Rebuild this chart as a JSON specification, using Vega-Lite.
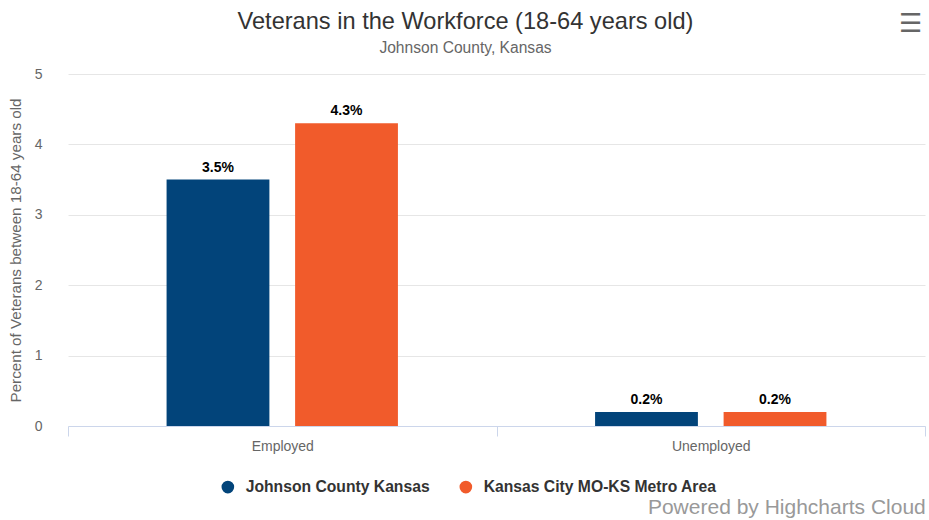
{
  "$schema": "https://vega.github.io/schema/vega-lite/v6.json",
  "width": 857,
  "height": 352,
  "autosize": "none",
  "padding": {"left": 68, "top": 74, "right": 4, "bottom": 94},
  "background": "#ffffff",
  "config": {
    "font": "Liberation Sans",
    "view": {"stroke": null}
  },
  "title": {
    "text": "Veterans in the Workforce (18-64 years old)",
    "subtitle": "Johnson County, Kansas",
    "anchor": "middle",
    "dx": -31,
    "fontSize": 23.6,
    "fontWeight": "normal",
    "color": "#333333",
    "subtitleFontSize": 15.6,
    "subtitleColor": "#666666",
    "subtitlePadding": 8,
    "offset": -46
  },
  "datasets": {
    "bars": [
      {"status": "Employed", "series": "Johnson County Kansas", "value": 3.5, "label": "3.5%"},
      {"status": "Employed", "series": "Kansas City MO-KS Metro Area", "value": 4.3, "label": "4.3%"},
      {"status": "Unemployed", "series": "Johnson County Kansas", "value": 0.2, "label": "0.2%"},
      {"status": "Unemployed", "series": "Kansas City MO-KS Metro Area", "value": 0.2, "label": "0.2%"}
    ]
  },
  "layer": [
    {
      "data": {"name": "bars"},
      "mark": {"type": "bar"},
      "encoding": {
        "x": {
          "field": "status", "type": "nominal", "sort": null,
          "scale": {"paddingInner": 0, "paddingOuter": 0},
          "axis": {
            "title": null, "labelAngle": 0, "tickBand": "extent",
            "domainColor": "#ccd6eb", "tickColor": "#ccd6eb", "tickSize": 10,
            "labelColor": "#666666", "labelFontSize": 14, "labelPadding": 3
          }
        },
        "xOffset": {
          "field": "series", "type": "nominal", "sort": null,
          "scale": {"paddingInner": 0.2, "paddingOuter": 0.767}
        },
        "y": {
          "field": "value", "type": "quantitative",
          "scale": {"domain": [0, 5], "nice": false},
          "axis": {
            "title": "Percent of Veterans between 18-64 years old",
            "values": [0, 1, 2, 3, 4, 5],
            "format": "d",
            "domain": false, "ticks": false,
            "gridColor": "#e6e6e6",
            "labelColor": "#666666", "labelFontSize": 14, "labelPadding": 26,
            "titleColor": "#666666", "titleFontSize": 15.2, "titleFontWeight": "normal",
            "titlePadding": 11
          }
        },
        "color": {
          "field": "series", "type": "nominal", "sort": null,
          "scale": {"range": ["#02447a", "#f15b2b"]},
          "legend": {
            "title": null,
            "orient": "none",
            "direction": "horizontal",
            "legendX": 152,
            "legendY": 405,
            "symbolType": "circle",
            "symbolSize": 160,
            "symbolStrokeWidth": 0,
            "labelFontSize": 15.7,
            "labelFontWeight": "bold",
            "labelColor": "#333333",
            "labelOffset": 10,
            "labelLimit": 400,
            "columnPadding": 28,
            "padding": 0
          }
        }
      }
    },
    {
      "data": {"name": "bars"},
      "mark": {"type": "text", "dy": -5, "fontSize": 14, "fontWeight": "bold", "color": "#000000", "baseline": "bottom"},
      "encoding": {
        "x": {"field": "status", "type": "nominal", "sort": null},
        "xOffset": {"field": "series", "type": "nominal", "sort": null},
        "y": {"field": "value", "type": "quantitative", "scale": {"domain": [0, 5], "nice": false}},
        "text": {"field": "label", "type": "nominal"}
      }
    },
    {
      "data": {"values": [{"credit": "Powered by Highcharts Cloud"}]},
      "mark": {"type": "text", "align": "right", "baseline": "alphabetic", "dx": 215, "fontSize": 21, "color": "#999999"},
      "encoding": {
        "x": {"datum": "Unemployed", "type": "nominal"},
        "y": {"datum": -1.25, "type": "quantitative", "scale": {"domain": [0, 5], "nice": false}},
        "text": {"field": "credit", "type": "nominal"}
      }
    },
    {
      "data": {"values": [{"icon": "☰"}]},
      "mark": {"type": "text", "align": "center", "baseline": "middle", "dx": 200, "fontSize": 26, "color": "#666666", "font": "DejaVu Sans"},
      "encoding": {
        "x": {"datum": "Unemployed", "type": "nominal"},
        "y": {"datum": 5.71, "type": "quantitative", "scale": {"domain": [0, 5], "nice": false}},
        "text": {"field": "icon", "type": "nominal"}
      }
    }
  ]
}
